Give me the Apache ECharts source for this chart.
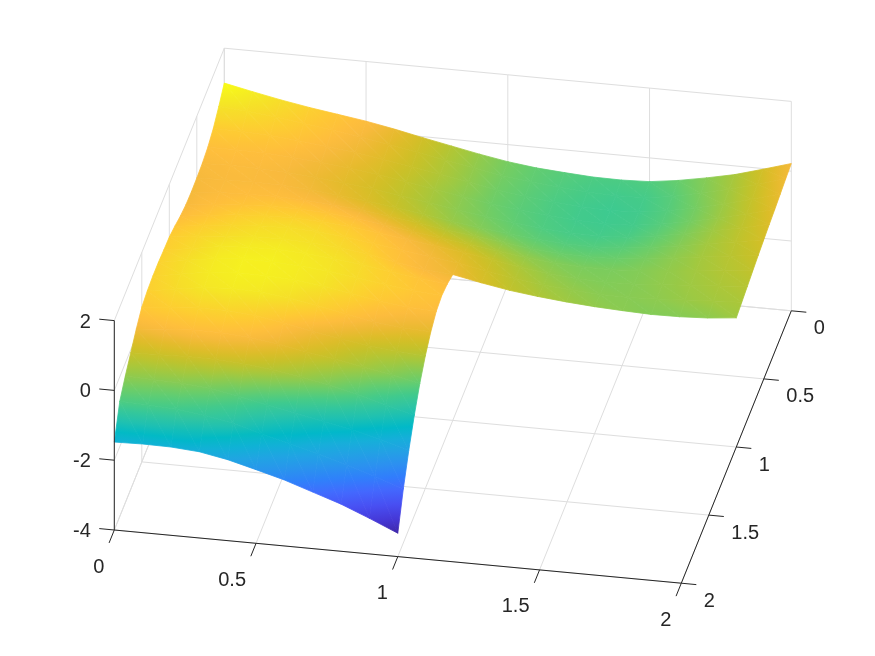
<!DOCTYPE html>
<html>
<head>
<meta charset="utf-8">
<title>L-shaped surface</title>
<style>
html, body { margin: 0; padding: 0; background: #fff; }
#main { width: 875px; height: 656px; }
</style>
<script src="https://cdn.jsdelivr.net/npm/echarts@6/dist/echarts.min.js"></script>
</head>
<body>
<div id="main"></div>
<script>
// values, rows run along x, one row per y
var xValues = [0, 0.1, 0.2, 0.3, 0.4, 0.5, 0.6, 0.7, 0.8, 0.9, 1, 1.1, 1.2, 1.3, 1.4, 1.5, 1.6, 1.7, 1.8, 1.9, 2];
var yValues = [0, 0.1, 0.2, 0.3, 0.4, 0.5, 0.6, 0.7, 0.8, 0.9, 1, 1.1, 1.2, 1.3, 1.4, 1.5, 1.6, 1.7, 1.8, 1.9, 2];
var zRows = [
    [1, 0.83, 0.67, 0.53, 0.41, 0.29, 0.14, -0.03, -0.19, -0.35, -0.49, -0.59, -0.65, -0.7, -0.71, -0.68, -0.57, -0.42, -0.25, -0.02, 0.22],
    [0.72, 0.66, 0.57, 0.46, 0.35, 0.23, 0.09, -0.06, -0.21, -0.36, -0.5, -0.6, -0.68, -0.74, -0.77, -0.75, -0.64, -0.46, -0.28, -0.07, 0.18],
    [0.48, 0.47, 0.43, 0.36, 0.27, 0.17, 0.05, -0.08, -0.22, -0.37, -0.52, -0.62, -0.71, -0.77, -0.8, -0.77, -0.66, -0.5, -0.31, -0.1, 0.13],
    [0.33, 0.34, 0.32, 0.27, 0.2, 0.11, 0.01, -0.12, -0.26, -0.4, -0.53, -0.63, -0.71, -0.77, -0.79, -0.76, -0.65, -0.5, -0.32, -0.13, 0.08],
    [0.26, 0.28, 0.27, 0.23, 0.16, 0.08, -0.01, -0.13, -0.26, -0.39, -0.5, -0.6, -0.69, -0.74, -0.75, -0.71, -0.6, -0.46, -0.3, -0.14, 0.04],
    [0.23, 0.26, 0.27, 0.25, 0.2, 0.12, 0.03, -0.08, -0.2, -0.33, -0.43, -0.53, -0.61, -0.66, -0.67, -0.63, -0.54, -0.42, -0.28, -0.15, -0.01],
    [0.22, 0.28, 0.31, 0.32, 0.29, 0.24, 0.16, 0.05, -0.06, -0.18, -0.28, -0.39, -0.49, -0.55, -0.57, -0.55, -0.48, -0.38, -0.27, -0.17, -0.06],
    [0.24, 0.33, 0.39, 0.43, 0.43, 0.39, 0.32, 0.21, 0.09, -0.02, -0.12, -0.24, -0.35, -0.43, -0.47, -0.47, -0.43, -0.36, -0.28, -0.2, -0.12],
    [0.31, 0.41, 0.5, 0.55, 0.56, 0.53, 0.46, 0.36, 0.25, 0.14, 0.03, -0.1, -0.24, -0.35, -0.42, -0.44, -0.42, -0.36, -0.3, -0.24, -0.18],
    [0.41, 0.51, 0.59, 0.65, 0.67, 0.64, 0.56, 0.45, 0.33, 0.22, 0.11, -0.03, -0.17, -0.28, -0.35, -0.4, -0.41, -0.38, -0.33, -0.28, -0.24],
    [0.49, 0.59, 0.67, 0.73, 0.74, 0.71, 0.64, 0.54, 0.38, 0.25, 0.18, 0.02, -0.12, -0.22, -0.3, -0.36, -0.4, -0.43, -0.42, -0.38, -0.3],
    [0.51, 0.63, 0.76, 0.82, 0.83, 0.79, 0.72, 0.62, 0.5, 0.39, 0.3],
    [0.54, 0.68, 0.81, 0.87, 0.87, 0.82, 0.75, 0.64, 0.52, 0.42, 0.36],
    [0.54, 0.68, 0.81, 0.87, 0.86, 0.81, 0.72, 0.58, 0.43, 0.34, 0.3],
    [0.51, 0.64, 0.76, 0.81, 0.78, 0.69, 0.55, 0.38, 0.23, 0.14, 0.1],
    [0.43, 0.5, 0.56, 0.57, 0.5, 0.36, 0.2, 0.06, -0.06, -0.14, -0.2],
    [0.2, 0.27, 0.32, 0.32, 0.26, 0.15, 0, -0.13, -0.28, -0.43, -0.6],
    [-0.09, -0.07, -0.05, -0.06, -0.1, -0.2, -0.33, -0.48, -0.68, -0.9, -1.12],
    [-0.37, -0.4, -0.42, -0.5, -0.64, -0.82, -0.98, -1.14, -1.3, -1.5, -1.73],
    [-0.7, -0.73, -0.78, -0.88, -1.03, -1.26, -1.46, -1.68, -1.92, -2.17, -2.45],
    [-1.48, -1.46, -1.47, -1.53, -1.68, -1.89, -2.11, -2.38, -2.65, -2.98, -3.33]
];
var xTicks = [0, 0.5, 1, 1.5, 2];
var yTicks = [0, 0.5, 1, 1.5, 2];
var zTicks = [-4, -2, 0, 2];
var xTickLabels = ['0', '0.5', '1', '1.5', '2'];
var yTickLabels = ['0', '0.5', '1', '1.5', '2'];
var zTickLabels = ['-4', '-2', '0', '2'];
var parula = [
    [0.2422, 0.1504, 0.6603], [0.2504, 0.1650, 0.7076], [0.2578, 0.1818, 0.7511], [0.2647, 0.1978, 0.7952],
    [0.2706, 0.2147, 0.8364], [0.2751, 0.2342, 0.8710], [0.2783, 0.2559, 0.8991], [0.2803, 0.2782, 0.9221],
    [0.2813, 0.3006, 0.9414], [0.2810, 0.3228, 0.9579], [0.2795, 0.3447, 0.9717], [0.2760, 0.3667, 0.9829],
    [0.2699, 0.3892, 0.9906], [0.2602, 0.4123, 0.9952], [0.2440, 0.4358, 0.9988], [0.2206, 0.4603, 0.9973],
    [0.1963, 0.4847, 0.9892], [0.1834, 0.5074, 0.9798], [0.1786, 0.5289, 0.9682], [0.1764, 0.5499, 0.9520],
    [0.1687, 0.5703, 0.9359], [0.1540, 0.5902, 0.9218], [0.1460, 0.6091, 0.9079], [0.1380, 0.6276, 0.8973],
    [0.1248, 0.6459, 0.8883], [0.1113, 0.6635, 0.8763], [0.0952, 0.6798, 0.8598], [0.0689, 0.6948, 0.8394],
    [0.0297, 0.7082, 0.8163], [0.0036, 0.7203, 0.7917], [0.0067, 0.7312, 0.7660], [0.0433, 0.7411, 0.7394],
    [0.0964, 0.7500, 0.7120], [0.1408, 0.7584, 0.6842], [0.1717, 0.7670, 0.6554], [0.1938, 0.7758, 0.6251],
    [0.2161, 0.7843, 0.5923], [0.2470, 0.7918, 0.5567], [0.2906, 0.7973, 0.5188], [0.3406, 0.8008, 0.4789],
    [0.3909, 0.8029, 0.4354], [0.4456, 0.8024, 0.3909], [0.5044, 0.7993, 0.3480], [0.5616, 0.7942, 0.3045],
    [0.6174, 0.7876, 0.2612], [0.6720, 0.7793, 0.2227], [0.7242, 0.7698, 0.1910], [0.7738, 0.7598, 0.1646],
    [0.8203, 0.7498, 0.1535], [0.8634, 0.7406, 0.1596], [0.9035, 0.7330, 0.1774], [0.9393, 0.7288, 0.2100],
    [0.9728, 0.7298, 0.2394], [0.9956, 0.7434, 0.2371], [0.9970, 0.7659, 0.2199], [0.9952, 0.7893, 0.2028],
    [0.9892, 0.8136, 0.1885], [0.9786, 0.8386, 0.1766], [0.9676, 0.8639, 0.1643], [0.9610, 0.8890, 0.1537],
    [0.9597, 0.9135, 0.1423], [0.9628, 0.9373, 0.1265], [0.9691, 0.9606, 0.1064], [0.9769, 0.9839, 0.0805]
];

var zMin = -3.33;
var zMax = 1;

// view of the box: screen offset for one unit along each axis
function project (x, y, z) {
    return [
        224.3 + 283.5 * x - 55 * y,
        257.6 + 26.6 * x + 136.2 * y - 34.9 * (z + 4)
    ];
}

function colorAt (z) {
    var t = (z - zMin) / (zMax - zMin);
    t = Math.max(0, Math.min(1, t)) * (parula.length - 1);
    var i = Math.min(Math.floor(t), parula.length - 2);
    var f = t - i;
    var c = [0, 1, 2].map(function (k) {
        return Math.round(255 * (parula[i][k] + (parula[i + 1][k] - parula[i][k]) * f));
    });
    return 'rgb(' + c.join(',') + ')';
}

// two triangles per cell, far rows first
var triangles = [];
for (var j = 0; j < zRows.length - 1; j++) {
    var cols = Math.min(zRows[j].length, zRows[j + 1].length);
    for (var i = 0; i < cols - 1; i++) {
        var a = [xValues[i], yValues[j], zRows[j][i]];
        var b = [xValues[i + 1], yValues[j], zRows[j][i + 1]];
        var c = [xValues[i + 1], yValues[j + 1], zRows[j + 1][i + 1]];
        var d = [xValues[i], yValues[j + 1], zRows[j + 1][i]];
        triangles.push(a.concat(b, c));
        triangles.push(a.concat(c, d));
    }
}

// same idea as shading interp: a gradient along the slope of each triangle
function triangleFill (pts, zs) {
    var lo = Math.min.apply(null, zs);
    var hi = Math.max.apply(null, zs);
    var ux = pts[1][0] - pts[0][0], uy = pts[1][1] - pts[0][1];
    var vx = pts[2][0] - pts[0][0], vy = pts[2][1] - pts[0][1];
    var dz1 = zs[1] - zs[0], dz2 = zs[2] - zs[0];
    var det = ux * vy - uy * vx;
    if (Math.abs(det) < 1e-6 || hi - lo < 1e-6) {
        return colorAt(lo);
    }
    var gx = (dz1 * vy - dz2 * uy) / det;
    var gy = (dz2 * ux - dz1 * vx) / det;
    var g2 = gx * gx + gy * gy;
    var p = pts[zs.indexOf(lo)];
    var stops = [];
    for (var k = 0; k <= 4; k++) {
        stops.push({ offset: k / 4, color: colorAt(lo + (hi - lo) * k / 4) });
    }
    return new echarts.graphic.LinearGradient(
        p[0], p[1],
        p[0] + gx / g2 * (hi - lo), p[1] + gy / g2 * (hi - lo),
        stops, true
    );
}

function renderTriangle (params, api) {
    var t = triangles[params.dataIndex];
    var pts = [
        api.coord(project(t[0], t[1], t[2])),
        api.coord(project(t[3], t[4], t[5])),
        api.coord(project(t[6], t[7], t[8]))
    ];
    var fill = triangleFill(pts, [t[2], t[5], t[8]]);
    return {
        type: 'polygon',
        shape: { points: pts },
        style: { fill: fill, stroke: fill, lineWidth: 0.8 }
    };
}

// box lines behind the surface
var gridSegments = [];
xTicks.forEach(function (x) {
    gridSegments.push([x, 0, -4, x, 0, 2]);
    gridSegments.push([x, 0, -4, x, 2, -4]);
});
yTicks.forEach(function (y) {
    gridSegments.push([0, y, -4, 0, y, 2]);
    gridSegments.push([0, y, -4, 2, y, -4]);
});
zTicks.forEach(function (z) {
    gridSegments.push([0, 0, z, 2, 0, z]);
    gridSegments.push([0, 0, z, 0, 2, z]);
});

// the three rulers and their ticks, in front
var axisSegments = [
    [0, 2, -4, 2, 2, -4],
    [2, 0, -4, 2, 2, -4],
    [0, 2, -4, 0, 2, 2]
];
xTicks.forEach(function (x) {
    axisSegments.push([x, 2, -4, x, 2.095, -4]);
});
yTicks.forEach(function (y) {
    axisSegments.push([2, y, -4, 2.053, y, -4]);
});
zTicks.forEach(function (z) {
    axisSegments.push([0, 2, z, -0.053, 2, z]);
});

function renderSegment (color) {
    return function (params, api) {
        var s = api.value;
        var p1 = api.coord(project(s(0), s(1), s(2)));
        var p2 = api.coord(project(s(3), s(4), s(5)));
        return {
            type: 'line',
            shape: { x1: p1[0], y1: p1[1], x2: p2[0], y2: p2[1] },
            style: { stroke: color, lineWidth: 1 }
        };
    };
}

var tickLabels = [];
xTicks.forEach(function (x, i) {
    tickLabels.push({ value: [x, 2, -4], text: xTickLabels[i], dx: -10, dy: 37, align: 'right' });
});
yTicks.forEach(function (y, i) {
    tickLabels.push({ value: [2, y, -4], text: yTickLabels[i], dx: 22.5, dy: 18, align: 'left' });
});
zTicks.forEach(function (z, i) {
    tickLabels.push({ value: [0, 2, z], text: zTickLabels[i], dx: -23.5, dy: 1.5, align: 'right' });
});

function renderLabel (params, api) {
    var l = tickLabels[params.dataIndex];
    var p = api.coord(project(l.value[0], l.value[1], l.value[2]));
    return {
        type: 'text',
        style: {
            x: p[0] + l.dx,
            y: p[1] + l.dy,
            text: l.text,
            fill: '#262626',
            font: '20px "Liberation Sans", Arial, sans-serif',
            align: l.align,
            verticalAlign: 'middle'
        }
    };
}

var myChart = echarts.init(document.getElementById('main'), null, { renderer: 'canvas' });
var option = {
    backgroundColor: '#ffffff',
    animation: false,
    grid: { left: 0, right: 0, top: 0, bottom: 0 },
    xAxis: { type: 'value', min: 0, max: 875, show: false },
    yAxis: { type: 'value', min: 0, max: 656, inverse: true, show: false },
    series: [
        {
            type: 'custom',
            silent: true,
            clip: false,
            z: 1,
            renderItem: renderSegment('#dedede'),
            data: gridSegments
        },
        {
            type: 'custom',
            silent: true,
            clip: false,
            progressive: 0,
            z: 2,
            renderItem: renderTriangle,
            data: triangles
        },
        {
            type: 'custom',
            silent: true,
            clip: false,
            z: 3,
            renderItem: renderSegment('#262626'),
            data: axisSegments
        },
        {
            type: 'custom',
            silent: true,
            clip: false,
            z: 4,
            renderItem: renderLabel,
            data: tickLabels
        }
    ]
};
myChart.setOption(option);
</script>
</body>
</html>
